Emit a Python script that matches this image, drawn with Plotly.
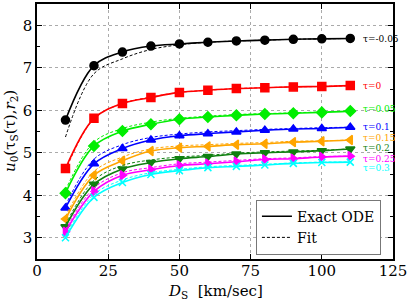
import plotly.graph_objects as go

x_vals = [10, 20, 30, 40, 50, 60, 70, 80, 90, 100, 110]
tau_labels = ["τ=-0.05", "τ=0", "τ=0.05", "τ=0.1", "τ=0.15", "τ=0.2", "τ=0.25", "τ=0.3"]
colors = ["#000000", "#ff0000", "#00ee00", "#0000ff", "#ffa500", "#108010", "#ff00ff", "#00ffff"]
symbols = ["circle", "square", "diamond", "triangle-up", "triangle-left", "triangle-down", "triangle-right", "x-thin"]

ode_m005 = [5.77, 7.05, 7.37, 7.51, 7.56, 7.60, 7.63, 7.65, 7.67, 7.68, 7.69]
ode_0 = [4.63, 5.81, 6.16, 6.30, 6.42, 6.47, 6.51, 6.53, 6.55, 6.56, 6.58]
ode_005 = [4.05, 5.16, 5.51, 5.67, 5.79, 5.84, 5.88, 5.91, 5.93, 5.95, 5.98]
ode_01 = [3.70, 4.74, 5.10, 5.30, 5.40, 5.45, 5.49, 5.53, 5.56, 5.57, 5.60]
ode_015 = [3.44, 4.47, 4.81, 5.04, 5.12, 5.15, 5.19, 5.21, 5.25, 5.27, 5.30]
ode_02 = [3.26, 4.26, 4.62, 4.77, 4.86, 4.91, 4.97, 5.00, 5.02, 5.05, 5.09]
ode_025 = [3.14, 4.09, 4.47, 4.60, 4.70, 4.74, 4.79, 4.84, 4.86, 4.90, 4.92]
ode_03 = [3.00, 3.95, 4.30, 4.49, 4.58, 4.65, 4.68, 4.71, 4.75, 4.77, 4.78]

fit_m005 = [5.37, 6.86, 7.21, 7.43, 7.54, 7.60, 7.63, 7.65, 7.67, 7.68, 7.69]
fit_0 = [4.58, 5.80, 6.16, 6.31, 6.42, 6.47, 6.51, 6.53, 6.55, 6.56, 6.58]
fit_005 = [4.12, 5.25, 5.57, 5.72, 5.81, 5.86, 5.90, 5.92, 5.94, 5.96, 5.98]
fit_01 = [3.76, 4.85, 5.19, 5.36, 5.44, 5.49, 5.52, 5.55, 5.57, 5.59, 5.60]
fit_015 = [3.50, 4.56, 4.90, 5.09, 5.16, 5.19, 5.22, 5.24, 5.27, 5.28, 5.30]
fit_02 = [3.31, 4.35, 4.70, 4.83, 4.90, 4.94, 4.99, 5.02, 5.04, 5.06, 5.09]
fit_025 = [3.19, 4.17, 4.53, 4.65, 4.74, 4.78, 4.82, 4.86, 4.88, 4.91, 4.92]
fit_03 = [3.05, 4.02, 4.36, 4.53, 4.61, 4.67, 4.70, 4.73, 4.76, 4.78, 4.78]

label_x = 114.5
label_y = [7.67, 6.56, 6.02, 5.60, 5.35, 5.12, 4.86, 4.63]

ode_all = [ode_m005, ode_0, ode_005, ode_01, ode_015, ode_02, ode_025, ode_03]
fit_all = [fit_m005, fit_0, fit_005, fit_01, fit_015, fit_02, fit_025, fit_03]

FONT = "DejaVu Serif, serif"
fig = go.Figure()

for i in range(len(ode_all)):
    c = colors[i]
    fig.add_trace(go.Scatter(
        x=x_vals, y=fit_all[i], mode="lines",
        line=dict(color=c, width=1, dash="3px,2px", shape="spline"),
        showlegend=False, hoverinfo="skip"))
    fig.add_trace(go.Scatter(
        x=x_vals, y=ode_all[i], mode="lines+markers",
        line=dict(color=c, width=1.6, shape="spline"),
        marker=dict(symbol=symbols[i], size=8 if symbols[i] != "x-thin" else 7, color=c,
                    line=dict(color=c, width=1.5)),
        showlegend=False))
    fig.add_annotation(x=label_x, y=label_y[i], text=tau_labels[i], showarrow=False,
                       xanchor="left", yanchor="middle", xshift=-2,
                       font=dict(family=FONT, size=9, color=c))

# legend entries
fig.add_trace(go.Scatter(x=[None], y=[None], mode="lines", name="Exact ODE",
                         line=dict(color="black", width=1.6)))
fig.add_trace(go.Scatter(x=[None], y=[None], mode="lines", name="Fit",
                         line=dict(color="black", width=1, dash="3px,2px")))

axis_common = dict(showline=True, linecolor="black", linewidth=1.5, mirror="ticks",
                   ticks="inside", ticklen=5, tickcolor="black",
                   showgrid=True, gridcolor="#aaaaaa", griddash="dot", gridwidth=1,
                   zeroline=False, tickfont=dict(family=FONT, size=15, color="black"))

fig.update_xaxes(range=[0, 125], tickvals=[0, 25, 50, 75, 100, 125],
                 ticklabelstandoff=-3, **axis_common)
fig.update_yaxes(range=[2.5, 8.5], tickvals=[3, 4, 5, 6, 7, 8],
                 minor=dict(tickvals=[2.5, 3.5, 4.5, 5.5, 6.5, 7.5, 8.5], ticks="inside",
                            ticklen=3, tickcolor="black", showgrid=False),
                 **axis_common)

fig.add_annotation(xref="paper", yref="paper", x=0.5, y=0, yshift=-21,
                   xanchor="center", yanchor="top", showarrow=False,
                   text="<i>D</i><sub>S</sub>  [km/sec]",
                   font=dict(family=FONT, size=15, color="black"))
fig.add_annotation(xref="paper", yref="paper", x=0, y=0.5, xshift=-15,
                   xanchor="right", yanchor="middle", showarrow=False, textangle=-90,
                   text="<i>u</i><sub>0</sub>(τ<sub>S</sub>(τ),<i>r</i><sub>2</sub>)",
                   font=dict(family=FONT, size=15, color="black"))

fig.update_layout(
    width=409, height=302,
    margin=dict(l=37, r=16, t=2, b=43),
    plot_bgcolor="white", paper_bgcolor="white",
    font=dict(family=FONT),
    showlegend=True,
    legend=dict(x=0.615, y=0.233, xanchor="left", yanchor="top",
                bgcolor="white", bordercolor="#777777", borderwidth=1,
                font=dict(family=FONT, size=14, color="black"),
                tracegroupgap=0, itemwidth=30),
)

fig.write_html("out.html", config={"displayModeBar": False},
               post_script="document.body.style.margin='0';document.body.style.padding='0';")
